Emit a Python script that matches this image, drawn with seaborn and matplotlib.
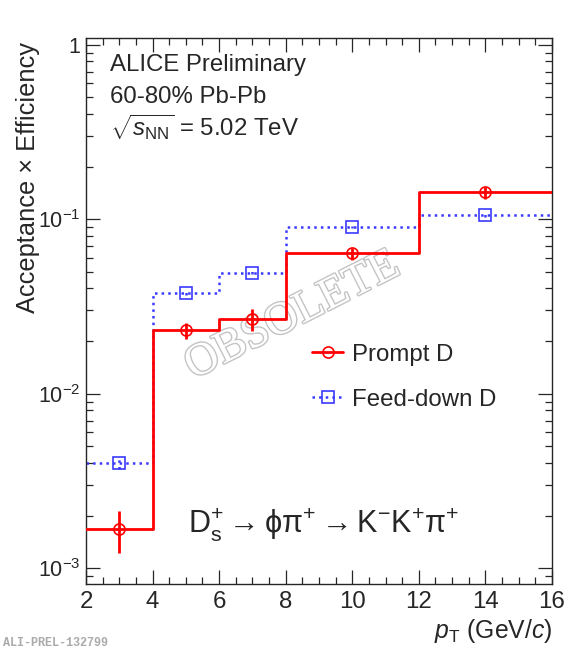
import numpy as np
import matplotlib
matplotlib.use('Agg')
import matplotlib.pyplot as plt
import matplotlib.patheffects as pe
from matplotlib.lines import Line2D
from matplotlib.ticker import LogLocator, MultipleLocator, NullFormatter
import seaborn as sns

# Datos (bines en pT y eficiencias)
bordes_pt = [2, 4, 6, 8, 12, 16]
centros_pt = [3, 5, 7, 10, 14]
prompt_val = [0.00167, 0.0230, 0.0266, 0.0636, 0.142]
prompt_err = [0.00045, 0.0025, 0.0038, 0.005, 0.011]
feed_val = [0.0040, 0.0375, 0.0493, 0.090, 0.105]
feed_err = [0.0003, 0.0007, 0.0009, 0.0015, 0.0016]
etiquetas_y = ['$10^{-3}$', '$10^{-2}$', '$10^{-1}$', '1']
ticks_y = [1e-3, 1e-2, 1e-1, 1]

sns.set_style('ticks')
plt.rcParams['font.family'] = ['Liberation Sans', 'DejaVu Sans']
plt.rcParams['mathtext.fontset'] = 'custom'
plt.rcParams['mathtext.rm'] = 'Liberation Sans'
plt.rcParams['mathtext.it'] = 'Liberation Sans:italic'
plt.rcParams['mathtext.sf'] = 'Liberation Sans'

rojo = '#ff0000'
azul = '#3a3aff'
fs = 17.3

fig = plt.figure(figsize=(5.76, 6.5), dpi=100)
ax = fig.add_axes([0.1493, 0.1015, 0.809, 0.840])

# Histogramas en escalon
sns.lineplot(x=bordes_pt, y=prompt_val + [prompt_val[-1]], drawstyle='steps-post',
             color=rojo, lw=2, ax=ax, zorder=3)
sns.lineplot(x=bordes_pt, y=feed_val + [feed_val[-1]], drawstyle='steps-post',
             color=azul, lw=1.8, ls=':', ax=ax, zorder=2)

# Marcadores con barras de error
ax.errorbar(centros_pt, prompt_val, yerr=prompt_err, fmt='o', ms=8, mfc='none',
            mec=rojo, mew=1.2, ecolor=rojo, elinewidth=2, capsize=0, zorder=4)
ax.errorbar(centros_pt, feed_val, yerr=feed_err, fmt='s', ms=8, mfc='none',
            mec=azul, mew=1.2, ecolor=azul, elinewidth=1.8, ls='none', capsize=0, zorder=4)
for barra in ax.containers[-1].lines[2]:
    barra.set_linestyle(':')

ax.set_yscale('log')
ax.set_xlim(2, 16)
ax.set_ylim(8.1e-4, 1.09)
ax.set_yticks(ticks_y, labels=etiquetas_y)
ax.yaxis.set_minor_locator(LogLocator(base=10, subs=np.arange(2, 10)))
ax.yaxis.set_minor_formatter(NullFormatter())
ax.xaxis.set_major_locator(MultipleLocator(2))
ax.xaxis.set_minor_locator(MultipleLocator(0.5))
ax.tick_params(which='both', direction='in', top=True, right=True, width=0.9)
ax.tick_params(which='major', length=10)
ax.tick_params(which='minor', length=5)
ax.tick_params(axis='x', pad=5, labelsize=fs)
ax.tick_params(axis='y', pad=4, labelsize=15.5)
for s in ax.spines.values():
    s.set_linewidth(1.0)
ax.set_xlabel('')
ax.set_ylabel('')

# Textos
ax.text(0.0515, 0.940, 'ALICE Preliminary', transform=ax.transAxes, fontsize=fs, va='baseline')
ax.text(0.0515, 0.8815, '60-80% Pb-Pb', transform=ax.transAxes, fontsize=fs, va='baseline')
ax.text(0.0515, 0.8205, r'$\sqrt{s_{\mathrm{NN}}}$ = 5.02 TeV', transform=ax.transAxes,
        fontsize=fs, va='baseline')
ax.text(0.219, 0.0952, r'$\mathrm{D_s^{+} \rightarrow ϕπ^{+} \rightarrow K^{-}K^{+}π^{+}}$',
        transform=ax.transAxes, fontsize=22, va='baseline')
ax.text(1.0, -0.0989, r'$p_{\mathrm{T}}$ (GeV/$c$)', transform=ax.transAxes, fontsize=17.8,
        ha='right', va='baseline')
ax.text(-0.125, 0.993, 'Acceptance × Efficiency', transform=ax.transAxes, fontsize=18.3,
        rotation=90, ha='center', va='top')

# Marca de agua
ax.text(0.444, 0.491, 'OBSOLETE', transform=ax.transAxes, fontsize=33, family='Liberation Serif',
        rotation=27, ha='center', va='center', color='white', zorder=1,
        path_effects=[pe.Stroke(linewidth=2.0, foreground='#c4c4c4'), pe.Normal()])

# Leyenda
manejadores = [
    Line2D([], [], color=rojo, lw=2, marker='o', ms=8, mfc='none', mew=1.2),
    Line2D([], [], color=azul, lw=1.8, ls=':', marker='s', ms=8, mfc='none', mew=1.2),
]
ax.legend(manejadores, ['Prompt D', 'Feed-down D'], loc='upper left',
          bbox_to_anchor=(0.485, 0.440), frameon=False, fontsize=fs, handlelength=1.3,
          handletextpad=0.35, labelspacing=0.95, borderpad=0, borderaxespad=0)

fig.text(3 / 576, 4 / 650, 'ALI-PREL-132799', family='Liberation Mono', weight='bold',
         fontsize=8.5, color='#aaaaaa', va='baseline')

fig.savefig('out.png', dpi=100)
